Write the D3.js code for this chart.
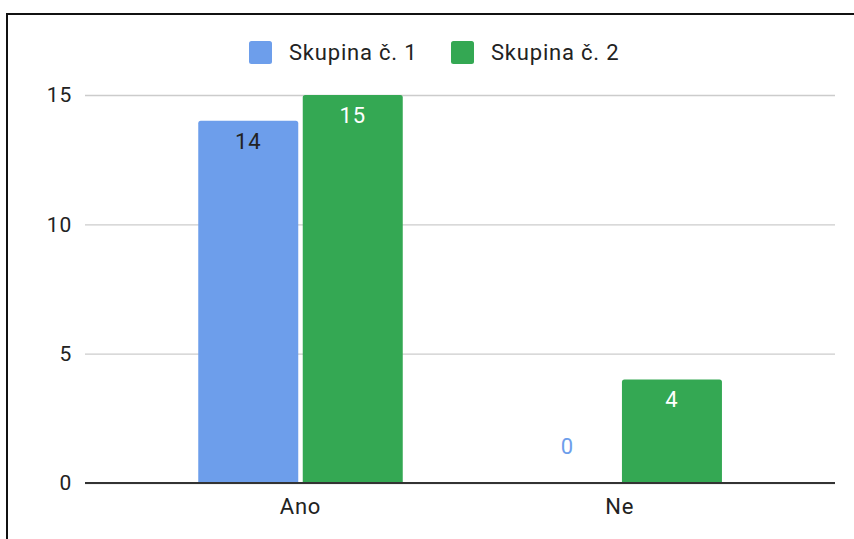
<!DOCTYPE html>
<html>
<head>
<meta charset="utf-8">
<script src="https://cdn.jsdelivr.net/npm/d3@7"></script>
<style>
  html, body { margin: 0; padding: 0; background: #fff; }
  svg { display: block; font-family: Roboto, "Noto Sans", sans-serif; }
  svg text { letter-spacing: 0.8px; }
</style>
</head>
<body>
<svg id="chart" width="854" height="539"></svg>
<script>
// Odpovědi podle skupin
const categories = ["Ano", "Ne"];
const seriesNames = ["Skupina č. 1", "Skupina č. 2"];
const skupina1 = [14, 0];
const skupina2 = [15, 4];
const yTicks = [0, 5, 10, 15];

const colors = ["#6d9eeb", "#34a853"];
const labelColors = ["#222222", "#ffffff"];

const svg = d3.select("#chart");

// Frame around the chart
svg.append("path")
  .attr("d", "M7,541 L7,14 L856,14")
  .attr("fill", "none")
  .attr("stroke", "#111")
  .attr("stroke-width", 2);

const plot = { left: 85, right: 835, top: 95, bottom: 483 };

const y = d3.scaleLinear().domain([0, 15]).range([plot.bottom, plot.top]);

const x = d3.scalePoint().domain(categories).range([300.5, 619.7]);

const xs = d3.scaleBand().domain(seriesNames).range([-102.25, 102.25]).paddingInner(0.043);

// Gridlines and y labels
const yAxis = d3.axisLeft(y).tickValues(yTicks).tickSize(-(plot.right - plot.left)).tickPadding(13).tickFormat(d3.format("d"));
const gy = svg.append("g").attr("transform", `translate(${plot.left},0)`).call(yAxis);
gy.select(".domain").remove();
gy.selectAll(".tick line").attr("stroke", "#cccccc").attr("stroke-width", 1.3);
gy.selectAll(".tick text").attr("fill", "#222").style("font-size", "21px").style("font-family", "Roboto, sans-serif");

// Bars
const rows = categories.map((c, i) => ({ cat: c, vals: [skupina1[i], skupina2[i]] }));

const groups = svg.append("g").selectAll("g")
  .data(rows).join("g")
  .attr("transform", d => `translate(${x(d.cat)},0)`);

function topRounded(x0, y0, w, h, r) {
  if (h <= 0) return "";
  r = Math.min(r, h);
  return `M${x0},${y0 + h} L${x0},${y0 + r} Q${x0},${y0} ${x0 + r},${y0} L${x0 + w - r},${y0} Q${x0 + w},${y0} ${x0 + w},${y0 + r} L${x0 + w},${y0 + h} Z`;
}

groups.selectAll("path.bar")
  .data(d => d.vals.map((v, j) => ({ v, j, s: seriesNames[j] })))
  .join("path")
  .attr("class", "bar")
  .attr("fill", d => colors[d.j])
  .attr("d", d => topRounded(xs(d.s), y(d.v), xs.bandwidth(), y(0) - y(d.v), 2.5));

// Value labels
groups.selectAll("text.val")
  .data(d => d.vals.map((v, j) => ({ v, j, s: seriesNames[j] })))
  .join("text")
  .attr("class", "val")
  .attr("x", d => xs(d.s) + xs.bandwidth() / 2)
  .attr("y", d => d.v === 0 ? y(0) - 37 : y(d.v) + 20)
  .attr("dy", "0.35em")
  .attr("text-anchor", "middle")
  .attr("fill", d => d.v === 0 ? colors[d.j] : labelColors[d.j])
  .style("font-size", "22px")
  .text(d => d.v);

// Baseline
svg.append("line")
  .attr("x1", plot.left).attr("x2", plot.right)
  .attr("y1", y(0)).attr("y2", y(0))
  .attr("stroke", "#333").attr("stroke-width", 2);

// Category labels
svg.append("g").selectAll("text")
  .data(categories).join("text")
  .attr("x", d => x(d))
  .attr("y", 506)
  .attr("dy", "0.35em")
  .attr("text-anchor", "middle")
  .attr("fill", "#222")
  .style("font-size", "22px")
  .text(d => d);

// Legend
const legendX = [249, 451];
const legend = svg.append("g").selectAll("g")
  .data(seriesNames).join("g")
  .attr("transform", (d, i) => `translate(${legendX[i]},41)`);
legend.append("rect")
  .attr("width", 23).attr("height", 23).attr("rx", 2.5)
  .attr("fill", (d, i) => colors[i]);
legend.append("text")
  .attr("x", 40).attr("y", 11.5).attr("dy", "0.35em")
  .attr("fill", "#222")
  .style("font-size", "22px")
  .text(d => d);
</script>
</body>
</html>
